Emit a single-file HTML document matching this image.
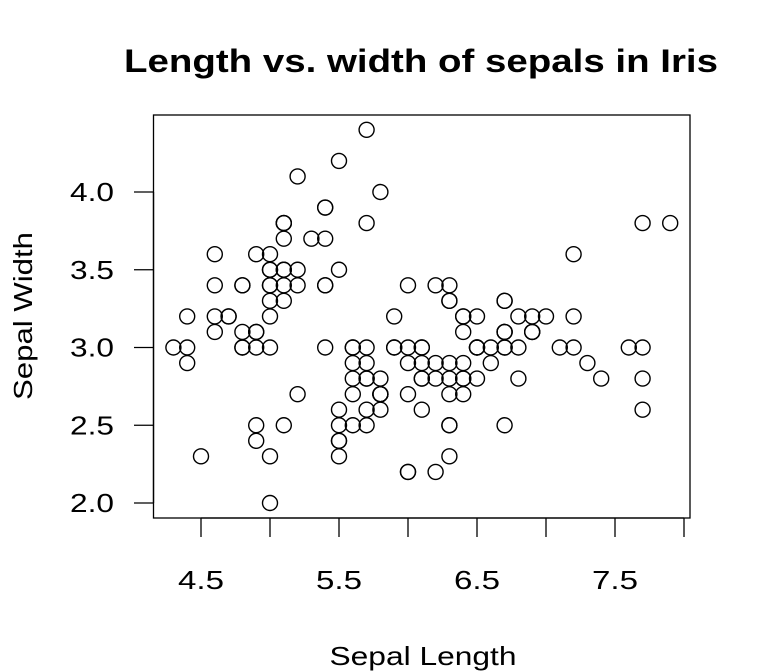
<!DOCTYPE html>
<html><head><meta charset="utf-8"><style>
html,body{margin:0;padding:0;background:#fff;}
svg{display:block;font-family:"Liberation Sans",Arial,sans-serif;}
</style></head><body>
<svg id="chart" width="768" height="672" viewBox="0 0 768 672">
<text x="421" y="72" text-anchor="middle" font-size="32" font-weight="bold" textLength="594" lengthAdjust="spacingAndGlyphs">Length vs. width of sepals in Iris</text>
<rect x="153.5" y="115" width="536.5" height="403" fill="none" stroke="#000" stroke-width="1.3"/>
<text x="423" y="665" text-anchor="middle" font-size="26" textLength="187" lengthAdjust="spacingAndGlyphs">Sepal Length</text>
<text transform="translate(32,316) rotate(-90)" text-anchor="middle" font-size="26" textLength="168" lengthAdjust="spacingAndGlyphs">Sepal Width</text>
<g id="axes"></g><g id="points"></g>
</svg>
<script>
const sepalLength=[5.1,4.9,4.7,4.6,5.0,5.4,4.6,5.0,4.4,4.9,5.4,4.8,4.8,4.3,5.8,5.7,5.4,5.1,5.7,5.1,5.4,5.1,4.6,5.1,4.8,5.0,5.0,5.2,5.2,4.7,4.8,5.4,5.2,5.5,4.9,5.0,5.5,4.9,4.4,5.1,5.0,4.5,4.4,5.0,5.1,4.8,5.1,4.6,5.3,5.0,
7.0,6.4,6.9,5.5,6.5,5.7,6.3,4.9,6.6,5.2,5.0,5.9,6.0,6.1,5.6,6.7,5.6,5.8,6.2,5.6,5.9,6.1,6.3,6.1,6.4,6.6,6.8,6.7,6.0,5.7,5.5,5.5,5.8,6.0,5.4,6.0,6.7,6.3,5.6,5.5,5.5,6.1,5.8,5.0,5.6,5.7,5.7,6.2,5.1,5.7,
6.3,5.8,7.1,6.3,6.5,7.6,4.9,7.3,6.7,7.2,6.5,6.4,6.8,5.7,5.8,6.4,6.5,7.7,7.7,6.0,6.9,5.6,7.7,6.3,6.7,7.2,6.2,6.1,6.4,7.2,7.4,7.9,6.4,6.3,6.1,7.7,6.3,6.4,6.0,6.9,6.7,6.9,5.8,6.8,6.7,6.7,6.3,6.5,6.2,5.9];
const sepalWidth=[3.5,3.0,3.2,3.1,3.6,3.9,3.4,3.4,2.9,3.1,3.7,3.4,3.0,3.0,4.0,4.4,3.9,3.5,3.8,3.8,3.4,3.7,3.6,3.3,3.4,3.0,3.4,3.5,3.4,3.2,3.1,3.4,4.1,4.2,3.1,3.2,3.5,3.6,3.0,3.4,3.5,2.3,3.2,3.5,3.8,3.0,3.8,3.2,3.7,3.3,
3.2,3.2,3.1,2.3,2.8,2.8,3.3,2.4,2.9,2.7,2.0,3.0,2.2,2.9,2.9,3.1,3.0,2.7,2.2,2.5,3.2,2.8,2.5,2.8,2.9,3.0,2.8,3.0,2.9,2.6,2.4,2.4,2.7,2.7,3.0,3.4,3.1,2.3,3.0,2.5,2.6,3.0,2.6,2.3,2.7,3.0,2.9,2.9,2.5,2.8,
3.3,2.7,3.0,2.9,3.0,3.0,2.5,2.9,2.5,3.6,3.2,2.7,3.0,2.5,2.8,3.2,3.0,3.8,2.6,2.2,3.2,2.8,2.8,2.7,3.3,3.2,2.8,3.0,2.8,3.0,2.8,3.8,2.8,2.8,2.6,3.0,3.4,3.1,3.0,3.1,3.1,3.1,2.7,3.2,3.3,3.0,2.5,3.0,3.4,3.0];
const xTicks=[4.5,5.0,5.5,6.0,6.5,7.0,7.5,8.0];
const xTickLabels=["4.5","","5.5","","6.5","","7.5",""];
const yTicks=[2.0,2.5,3.0,3.5,4.0];
const yTickLabels=["2.0","2.5","3.0","3.5","4.0"];
const NS="http://www.w3.org/2000/svg";
const xs=v=>201+(v-4.5)*138;
const ys=v=>503-(v-2.0)*155.5;
const axes=document.getElementById('axes'),pts=document.getElementById('points');
function mk(t,a,p){const e=document.createElementNS(NS,t);for(const k in a)e.setAttribute(k,a[k]);p.appendChild(e);return e;}
const xl=mk('line',{x1:xs(xTicks[0]),x2:xs(xTicks[xTicks.length-1]),y1:518,y2:518,stroke:'#000','stroke-width':1.3},axes);


xTicks.forEach((v,i)=>{
 const l=mk('line',{x1:xs(v),x2:xs(v),y1:518,y2:537,stroke:'#000','stroke-width':1.3},axes);
 
 
 if(xTickLabels[i]){const t=mk('text',{x:xs(v),y:589,'text-anchor':'middle','font-size':26,textLength:46,lengthAdjust:'spacingAndGlyphs'},axes);t.textContent=xTickLabels[i];
 
 }
});
const yl=mk('line',{x1:153.5,x2:153.5,y1:ys(yTicks[0]),y2:ys(yTicks[yTicks.length-1]),stroke:'#000','stroke-width':1.3},axes);


yTicks.forEach((v,i)=>{
 const l=mk('line',{x1:134,x2:153.5,y1:ys(v),y2:ys(v),stroke:'#000','stroke-width':1.3},axes);
 
 
 const t=mk('text',{x:114,y:ys(v)+9,'text-anchor':'end','font-size':26,textLength:44,lengthAdjust:'spacingAndGlyphs'},axes);t.textContent=yTickLabels[i];
 
 
});
sepalLength.forEach((v,i)=>{
 const c=mk('circle',{cx:xs(v),cy:ys(sepalWidth[i]),r:7.5,fill:'none',stroke:'#000','stroke-width':1.4},pts);
 
 
});
</script>
</body></html>
